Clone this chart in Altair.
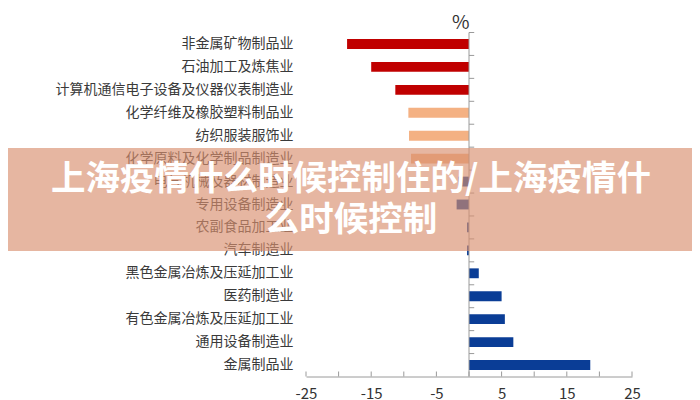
import altair as alt
import pandas as pd

categories = [
    "非金属矿物制品业",
    "石油加工及炼焦业",
    "计算机通信电子设备及仪器仪表制造业",
    "化学纤维及橡胶塑料制品业",
    "纺织服装服饰业",
    "化学原料及化学制品制造业",
    "电气机械及器材制造业",
    "专用设备制造业",
    "农副食品加工业",
    "汽车制造业",
    "黑色金属冶炼及压延加工业",
    "医药制造业",
    "有色金属冶炼及压延加工业",
    "通用设备制造业",
    "金属制品业",
]
values = [-18.7, -15.0, -11.3, -9.3, -9.2, -8.9, -1.6, -1.9, -0.3, -0.3, 1.5, 5.0, 5.5, 6.8, 18.6]
groups = ["g1"] * 3 + ["g2"] * 3 + ["g3"] * 9
tick_values = [-25, -20, -15, -10, -5, 0, 5, 10, 15, 20, 25]
banner_lines = ["上海疫情什么时候控制住的/上海疫情什", "么时候控制"]

df = pd.DataFrame({"cat": categories, "val": values, "grp": groups})
ticks_df = pd.DataFrame({"t": tick_values})
one_df = pd.DataFrame({"z": [0]})

W, H = 326, 344
PAD_L, PAD_T = 298, 24.5
TOTAL_W, TOTAL_H = 684, 392
LEFT_PAGE, TOP_PAGE = 8 + PAD_L, 8 + PAD_T   # where the plot area lands on the page
FONT = "Noto Sans CJK SC"

xscale = alt.Scale(domain=[-25, 25], nice=False, zero=False)

bars = alt.Chart(df).mark_bar().encode(
    x=alt.X("val:Q", scale=xscale,
            axis=alt.Axis(values=tick_values, ticks=False, grid=False, title=None,
                          domainColor="#9a9a9a", labelFontSize=15, labelColor="#333333",
                          labelPadding=10, labelFont=FONT, labelFlush=False,
                          labelExpr="'' + datum.value")),
    y=alt.Y("cat:N", sort=categories,
            scale=alt.Scale(paddingInner=0.57, paddingOuter=0.285),
            axis=alt.Axis(title=None, domain=False, ticks=False, labelFontSize=14,
                          labelColor="#3a3a3a", labelPadding=13, labelLimit=400,
                          labelFont=FONT)),
    color=alt.Color("grp:N", scale=alt.Scale(domain=["g1", "g2", "g3"],
                                              range=["#C00000", "#F4B183", "#0A3D96"]),
                    legend=None),
)

zero_line = alt.Chart(one_df).mark_rule(color="#9a9a9a").encode(
    x=alt.datum(0), y=alt.value(0), y2=alt.value(H)
)

zero_ticks = alt.Chart(df).mark_rule(color="#9a9a9a").encode(
    y=alt.Y("cat:N", sort=categories,
            scale=alt.Scale(paddingInner=0, paddingOuter=0),
            axis=None, bandPosition=0),
    x=alt.datum(0), x2=alt.datum(0.8),
)

x_ticks = alt.Chart(ticks_df).mark_rule(color="#9a9a9a").encode(
    x=alt.X("t:Q", scale=xscale), y=alt.value(H), y2=alt.value(H - 5)
)

banner = alt.Chart(one_df).mark_rect(color="#D98F6E", opacity=0.65).encode(
    x=alt.value(0 - LEFT_PAGE), x2=alt.value(700 - LEFT_PAGE),
    y=alt.value(148 - TOP_PAGE), y2=alt.value(251 - TOP_PAGE),
)

line1 = alt.Chart(one_df).mark_text(
    text=banner_lines[0], font=FONT, fontSize=34.5, fontWeight="bold", color="white",
    align="center", baseline="middle"
).encode(x=alt.value(351 - LEFT_PAGE), y=alt.value(180 - TOP_PAGE))

line2 = alt.Chart(one_df).mark_text(
    text=banner_lines[1], font=FONT, fontSize=34.5, fontWeight="bold", color="white",
    align="center", baseline="middle"
).encode(x=alt.value(351 - LEFT_PAGE), y=alt.value(221 - TOP_PAGE))

chart = alt.layer(bars, zero_line, zero_ticks, x_ticks, banner, line1, line2).resolve_scale(
    y="independent"
).properties(
    width=W, height=H,
    title=alt.TitleParams("%", anchor="start", frame="group", dx=146, offset=-1,
                          fontSize=19, fontWeight="normal", color="#333333", font=FONT),
    autosize=alt.AutoSizeParams(type="none"),
    padding={"left": PAD_L, "top": PAD_T, "right": TOTAL_W - PAD_L - W,
             "bottom": TOTAL_H - PAD_T - H},
).configure(background="white").configure_view(stroke=None, strokeWidth=0)

chart.save("out.html", embed_options={"renderer": "svg", "actions": False})
